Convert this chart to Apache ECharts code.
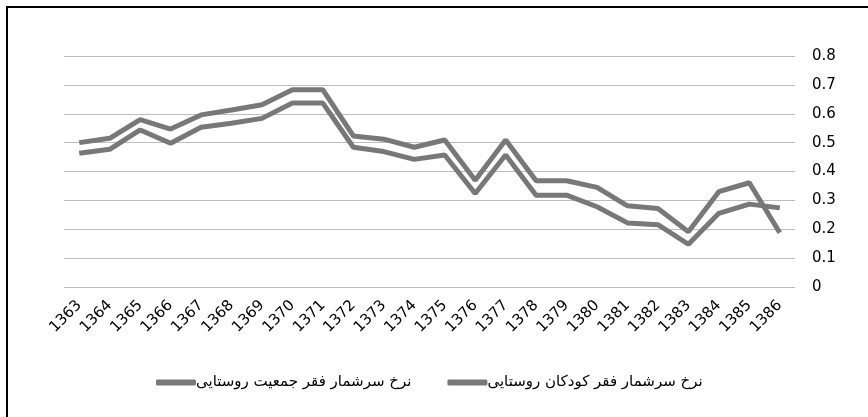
<!DOCTYPE html>
<html>
<head>
<meta charset="utf-8">
<script src="https://cdn.jsdelivr.net/npm/echarts@6/dist/echarts.min.js"></script>
<style>
html,body{margin:0;padding:0;background:#fff;}
#frame{position:absolute;left:6px;top:6px;width:870px;height:420px;border-left:2px solid #000;border-top:2px solid #000;}
#chart{position:absolute;left:0;top:0;width:868px;height:417px;}
</style>
</head>
<body>
<div id="frame"></div>
<div id="chart"></div>
<script>
const years = ['1363','1364','1365','1366','1367','1368','1369','1370','1371','1372','1373','1374',
  '1375','1376','1377','1378','1379','1380','1381','1382','1383','1384','1385','1386'];
const nameChildren = 'نرخ سرشمار فقر کودکان روستایی';
const namePopulation = 'نرخ سرشمار فقر جمعیت روستایی';
const childrenRate = [0.50,0.515,0.58,0.547,0.596,0.613,0.631,0.683,0.683,0.523,0.512,0.484,
  0.509,0.370,0.509,0.368,0.368,0.345,0.281,0.272,0.191,0.330,0.361,0.188];
const populationRate = [0.463,0.477,0.544,0.498,0.553,0.567,0.584,0.637,0.637,0.484,0.469,0.442,
  0.457,0.324,0.457,0.318,0.318,0.278,0.222,0.216,0.148,0.255,0.287,0.274];
const yTicks = [0,0.1,0.2,0.3,0.4,0.5,0.6,0.7,0.8];

const chart = echarts.init(document.getElementById('chart'));
const lineColor = '#787878';
const tickFont = 'DejaVu Sans';
chart.setOption({
  animation: false,
  backgroundColor: 'transparent',
  grid: {left: 64, right: 73, top: 56, bottom: 130, containLabel: false},
  legend: {
    bottom: 22,
    left: 151,
    itemWidth: 40,
    itemHeight: 6,
    itemGap: 36,
    icon: 'roundRect',
    data: [namePopulation, nameChildren],
    textStyle: {color: '#000', fontSize: 15, fontFamily: 'DejaVu Sans', padding: [0,0,0,-5]}
  },
  xAxis: {
    type: 'category',
    data: years,
    boundaryGap: true,
    axisLine: {show: false},
    axisTick: {show: false},
    axisLabel: {rotate: 45, margin: 16, color: '#000', fontSize: 15, fontFamily: tickFont},
    splitLine: {show: false}
  },
  yAxis: {
    type: 'value',
    position: 'right',
    min: yTicks[0],
    max: yTicks[yTicks.length - 1],
    interval: 0.1,
    axisLine: {show: false},
    axisTick: {show: false},
    axisLabel: {margin: 17, color: '#000', fontSize: 15, fontFamily: tickFont,
      formatter: v => String(Math.round(v * 10) / 10)},
    splitLine: {lineStyle: {color: '#bdbdbd', width: 1}}
  },
  series: [
    {name: namePopulation, type: 'line', data: populationRate, showSymbol: false, symbol: 'none',
      lineStyle: {color: lineColor, width: 5}, itemStyle: {color: lineColor}},
    {name: nameChildren, type: 'line', data: childrenRate, showSymbol: false, symbol: 'none',
      lineStyle: {color: lineColor, width: 5}, itemStyle: {color: lineColor}}
  ]
});
</script>
</body>
</html>
